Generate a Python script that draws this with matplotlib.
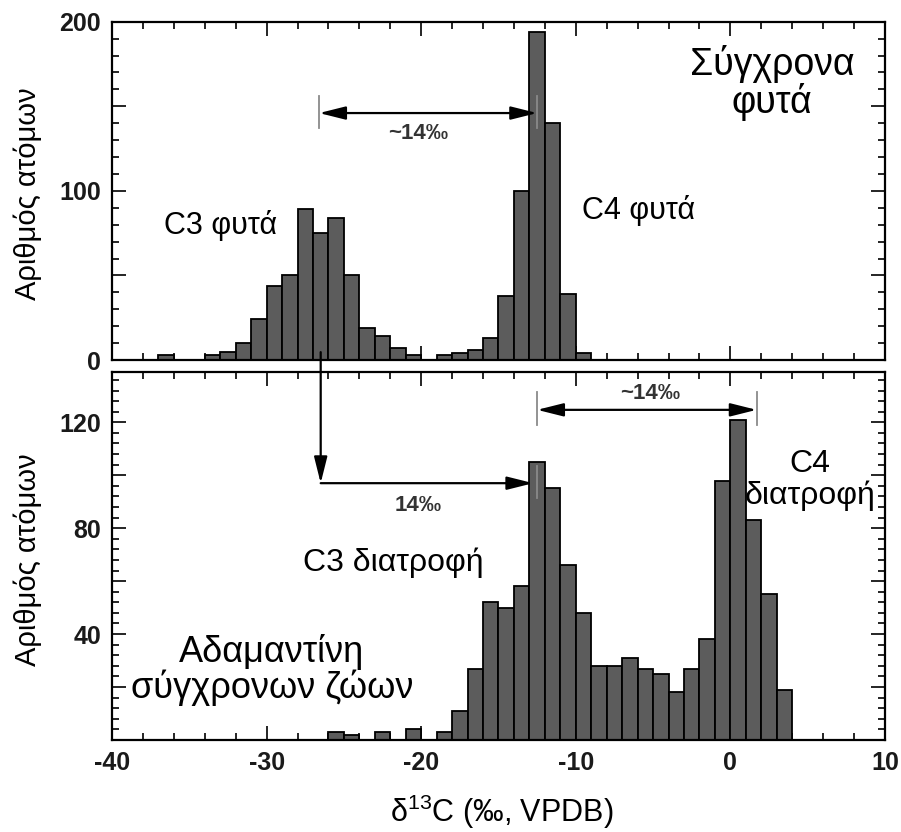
import matplotlib.pyplot as plt
import numpy as np

plt.rcParams['font.family'] = ['Liberation Sans', 'DejaVu Sans']

# top panel: modern plants, 1 permil bins (left edges)
plant_bins = np.arange(-37, -9)
plant_counts = [3, 0, 0, 3, 5, 10, 24, 44, 50, 89, 75, 84, 50, 19,
                14, 7, 3, 0, 3, 4, 6, 13, 38, 100, 194, 140, 39, 4]

# bottom panel: tooth enamel of modern animals
enamel_bins = np.arange(-26, 4)
enamel_counts = [3, 2, 0, 3, 0, 4, 0, 3, 11, 27, 52, 50, 58, 105, 95,
                 66, 48, 28, 28, 31, 27, 25, 18, 27, 38, 98, 121, 83, 55, 19]

x_ticks = [-40, -30, -20, -10, 0, 10]
top_yticks = [0, 50, 100, 150, 200]
top_ylabels = ['0', '', '100', '', '200']
bot_yticks = [0, 20, 40, 60, 80, 100, 120]
bot_ylabels = ['', '', '40', '', '80', '', '120']

bar_color = '#5c5c5c'
tick_gray = '#8a8a8a'

fig = plt.figure(figsize=(9.01, 8.32), dpi=100)
ax1 = fig.add_axes([0.1243, 0.5673, 0.8579, 0.4066])
ax2 = fig.add_axes([0.1243, 0.1106, 0.8579, 0.4423])


def draw_hist(ax, bins, counts):
    b = np.array(bins)
    c = np.array(counts)
    keep = c > 0
    ax.bar(b[keep], c[keep], width=1, align='edge', color=bar_color,
           edgecolor='black', linewidth=1.3, zorder=2)


draw_hist(ax1, plant_bins, plant_counts)
draw_hist(ax2, enamel_bins, enamel_counts)

for ax in (ax1, ax2):
    ax.set_xlim(-40, 10)
    ax.set_xticks(x_ticks)
    ax.set_xticks(np.arange(-40, 11, 2), minor=True)
    ax.tick_params(which='both', direction='in', top=True, right=True,
                   width=1.2, labelsize=18, labelcolor='#1a1a1a', pad=8)
    ax.tick_params(which='major', length=10)
    ax.tick_params(which='minor', length=5)
    for s in ax.spines.values():
        s.set_linewidth(1.6)

ax1.set_ylim(0, 200)
ax1.set_yticks(top_yticks)
ax1.set_yticklabels(top_ylabels)
ax1.set_yticks(np.arange(0, 201, 10), minor=True)
ax1.set_xticklabels([])

ax2.set_ylim(0, 139)
ax2.set_yticks(bot_yticks)
ax2.set_yticklabels(bot_ylabels)
ax2.set_yticks(np.arange(0, 139, 4), minor=True)
ax2.set_xticklabels([str(v) for v in x_ticks])

for ax in (ax1, ax2):
    for t in ax.get_xticklabels() + ax.get_yticklabels():
        t.set_fontweight('bold')

# arrows, top panel
arr = dict(arrowstyle='<|-|>,head_length=0.8,head_width=0.2', color='black',
           lw=1.6, mutation_scale=20, shrinkA=0, shrinkB=0)
ax1.annotate('', xy=(-26.6, 146), xytext=(-12.5, 146), arrowprops=arr)
for xv in (-26.6, -12.5):
    ax1.plot([xv, xv], [137, 156], color=tick_gray, lw=1.3, zorder=3)
ax1.text(-20.2, 134, '~14‰', ha='center', va='center', fontsize=16,
         fontweight='bold', color='#333333')

# arrows, bottom panel
one = dict(arrowstyle='-|>,head_length=0.8,head_width=0.2', color='black',
           lw=1.6, mutation_scale=20, shrinkA=0, shrinkB=0)
ax2.annotate('', xy=(-26.5, 97), xytext=(-26.5, 146.5), arrowprops=one,
             annotation_clip=False)
ax2.annotate('', xy=(-12.75, 97), xytext=(-26.5, 97), arrowprops=one)
ax2.plot([-12.5, -12.5], [91.5, 103.5], color=tick_gray, lw=1.3, zorder=3)
ax2.text(-20.2, 88.4, '14‰', ha='center', va='center', fontsize=16,
         fontweight='bold', color='#333333')

ax2.annotate('', xy=(-12.5, 124.7), xytext=(1.7, 124.7), arrowprops=arr)
for xv in (-12.5, 1.7):
    ax2.plot([xv, xv], [119, 131.5], color=tick_gray, lw=1.3, zorder=3)
ax2.text(-5.2, 131, '~14‰', ha='center', va='center', fontsize=16,
         fontweight='bold', color='#333333')

# labels in panels
ax1.text(-33.0, 79.3, 'C3 φυτά', ha='center', va='center', fontsize=22)
ax1.text(-9.6, 88.2, 'C4 φυτά', ha='left', va='center', fontsize=22)
ax1.text(2.7, 164, 'Σύγχρονα\nφυτά', ha='center', va='center',
         fontsize=27, linespacing=1.0)
ax2.text(-21.8, 66.9, 'C3 διατροφή', ha='center', va='center', fontsize=23)
ax2.text(5.15, 98.2, 'C4\nδιατροφή', ha='center', va='center',
         fontsize=23, linespacing=1.05)
ax2.text(-29.65, 26.4, 'Αδαμαντίνη\nσύγχρονων ζώων', ha='center',
         va='center', fontsize=26, linespacing=1.0)

fig.text(0.031, 0.767, 'Αριθμός ατόμων', rotation=90, ha='center',
         va='center', fontsize=21)
fig.text(0.031, 0.327, 'Αριθμός ατόμων', rotation=90, ha='center',
         va='center', fontsize=21)
fig.text(0.557, 0.024, r'δ$^{\mathregular{13}}$C (‰, VPDB)', ha='center',
         va='center', fontsize=22)

fig.savefig('out.png', dpi=100)
